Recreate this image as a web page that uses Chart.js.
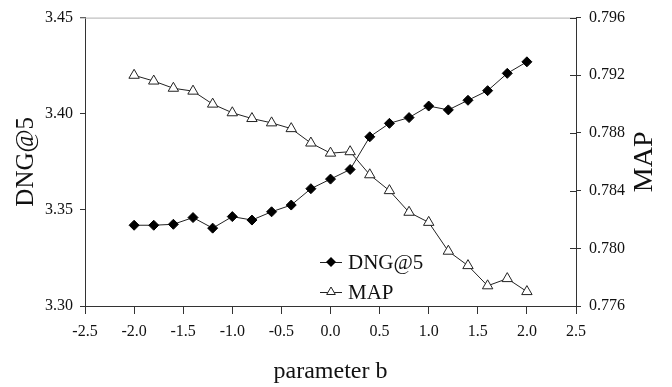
<!DOCTYPE html>
<html>
<head>
<meta charset="utf-8">
<script src="https://cdn.jsdelivr.net/npm/chart.js@4/dist/chart.umd.min.js"></script>
<style>
html,body{margin:0;padding:0;background:#fff;}
#c{display:block;}
</style>
</head>
<body>
<canvas id="c" width="672" height="387"></canvas>
<script>
const paramB = [-2.0,-1.8,-1.6,-1.4,-1.2,-1.0,-0.8,-0.6,-0.4,-0.2,0.0,0.2,0.4,0.6,0.8,1.0,1.2,1.4,1.6,1.8,2.0];
const dngValues = [3.342,3.342,3.3425,3.346,3.3405,3.3465,3.3447,3.349,3.3525,3.361,3.366,3.371,3.388,3.395,3.398,3.404,3.402,3.407,3.412,3.421,3.427];
const mapValues = [0.7920,0.7916,0.7911,0.7909,0.7900,0.7894,0.7890,0.7887,0.7883,0.7873,0.7866,0.7867,0.7851,0.7840,0.7825,0.7818,0.7798,0.7788,0.7774,0.7779,0.7770];
const seriesNames = ["DNG@5", "MAP"];
const xAxisTitle = "parameter b";
const leftAxisTitle = "DNG@5";
const rightAxisTitle = "MAP";

const FONT = "'Liberation Serif','Times New Roman',serif";
Chart.defaults.font.family = FONT;
Chart.defaults.color = "#111";

const dngPoints = paramB.map((b, i) => ({x: b, y: dngValues[i]}));
const mapPoints = paramB.map((b, i) => ({x: b, y: mapValues[i]}));

const framePlugin = {
  id: 'frame',
  afterDraw(chart) {
    const {ctx, chartArea: a} = chart;
    ctx.save();
    // light top border
    ctx.strokeStyle = '#b0b0b0';
    ctx.lineWidth = 1;
    ctx.beginPath();
    ctx.moveTo(a.left - 5, a.top + 0.5);
    ctx.lineTo(a.right, a.top + 0.5);
    ctx.stroke();
    // inner part of right-axis ticks
    const ys = chart.scales.y2;
    ctx.strokeStyle = '#333';
    ys.ticks.forEach(t => {
      const py = Math.round(ys.getPixelForValue(t.value)) + 0.5;
      ctx.beginPath();
      ctx.moveTo(a.right - 6, py);
      ctx.lineTo(a.right, py);
      ctx.stroke();
    });
    // right axis title, reading bottom-to-top
    ctx.save();
    ctx.translate(ys.right - 27, (a.top + a.bottom) / 2);
    ctx.rotate(-Math.PI / 2);
    ctx.fillStyle = '#111';
    ctx.font = '28px ' + FONT;
    ctx.textAlign = 'center';
    ctx.textBaseline = 'middle';
    ctx.fillText(rightAxisTitle, 0, 0);
    ctx.restore();
    // legend
    const ds = chart.data.datasets;
    const lx0 = 320, lx1 = 342, mx = 331, tx = 348;
    const rows = [262, 292];
    ds.forEach((d, i) => {
      const y = rows[i];
      ctx.strokeStyle = '#222';
      ctx.lineWidth = 1;
      ctx.beginPath();
      ctx.moveTo(lx0, y + 0.5);
      ctx.lineTo(lx1, y + 0.5);
      ctx.stroke();
      ctx.beginPath();
      if (d.pointStyle === 'rectRot') {
        const r = 5;
        ctx.moveTo(mx, y - r); ctx.lineTo(mx + r, y); ctx.lineTo(mx, y + r); ctx.lineTo(mx - r, y); ctx.closePath();
        ctx.fillStyle = d.pointBackgroundColor; ctx.fill();
      } else {
        const r = 5;
        ctx.moveTo(mx, y - r); ctx.lineTo(mx + r * 0.866, y + r * 0.5); ctx.lineTo(mx - r * 0.866, y + r * 0.5); ctx.closePath();
        ctx.fillStyle = d.pointBackgroundColor; ctx.fill();
        ctx.strokeStyle = d.pointBorderColor; ctx.stroke();
      }
      ctx.fillStyle = '#111';
      ctx.font = '21px ' + FONT;
      ctx.textBaseline = 'middle';
      ctx.textAlign = 'left';
      ctx.fillText(d.label, tx, y + 1);
    });
    ctx.restore();
  }
};

new Chart(document.getElementById('c'), {
  type: 'line',
  data: {
    datasets: [
      {
        label: seriesNames[0],
        data: dngPoints,
        yAxisID: 'y',
        borderColor: '#222',
        borderWidth: 1,
        pointStyle: 'rectRot',
        pointRadius: 5,
        pointBackgroundColor: '#000',
        pointBorderColor: '#000',
        pointBorderWidth: 1,
        tension: 0
      },
      {
        label: seriesNames[1],
        data: mapPoints,
        yAxisID: 'y2',
        borderColor: '#222',
        borderWidth: 1,
        pointStyle: 'triangle',
        pointRadius: 6,
        pointBackgroundColor: '#fff',
        pointBorderColor: '#222',
        pointBorderWidth: 1,
        tension: 0
      }
    ]
  },
  options: {
    responsive: false,
    animation: false,
    layout: {padding: {top: 14, left: 0, right: 0, bottom: 0}},
    plugins: {legend: {display: false}, tooltip: {enabled: false}},
    scales: {
      x: {
        type: 'linear',
        min: -2.5, max: 2.5,
        afterFit(s) { s.height = 81; },
        ticks: {stepSize: 0.5, callback: v => Number(v).toFixed(1), font: {size: 16}, color: '#111', padding: 8, maxRotation: 0},
        grid: {display: true, drawOnChartArea: false, drawTicks: true, tickLength: 8, color: '#333'},
        border: {display: true, color: '#333'},
        title: {display: true, text: xAxisTitle, font: {size: 24}, color: '#111', padding: {top: 0, bottom: 1}}
      },
      y: {
        type: 'linear', position: 'left',
        min: 3.30, max: 3.45,
        afterFit(s) { s.width = 85; },
        ticks: {stepSize: 0.05, callback: v => Number(v).toFixed(2), font: {size: 16}, color: '#111', padding: 7},
        grid: {display: true, drawOnChartArea: false, drawTicks: true, tickLength: 5, color: '#333'},
        border: {display: true, color: '#333'},
        title: {display: true, text: leftAxisTitle, font: {size: 25}, color: '#111', padding: {top: 11, bottom: 0}}
      },
      y2: {
        type: 'linear', position: 'right',
        min: 0.776, max: 0.796,
        afterFit(s) { s.width = 96; },
        ticks: {stepSize: 0.004, callback: v => Number(v).toFixed(3), font: {size: 16}, color: '#111', padding: 8},
        grid: {display: true, drawOnChartArea: false, drawTicks: true, tickLength: 5, color: '#333'},
        border: {display: true, color: '#333'},
        title: {display: false, text: rightAxisTitle}
      }
    }
  },
  plugins: [framePlugin]
});
</script>
</body>
</html>
